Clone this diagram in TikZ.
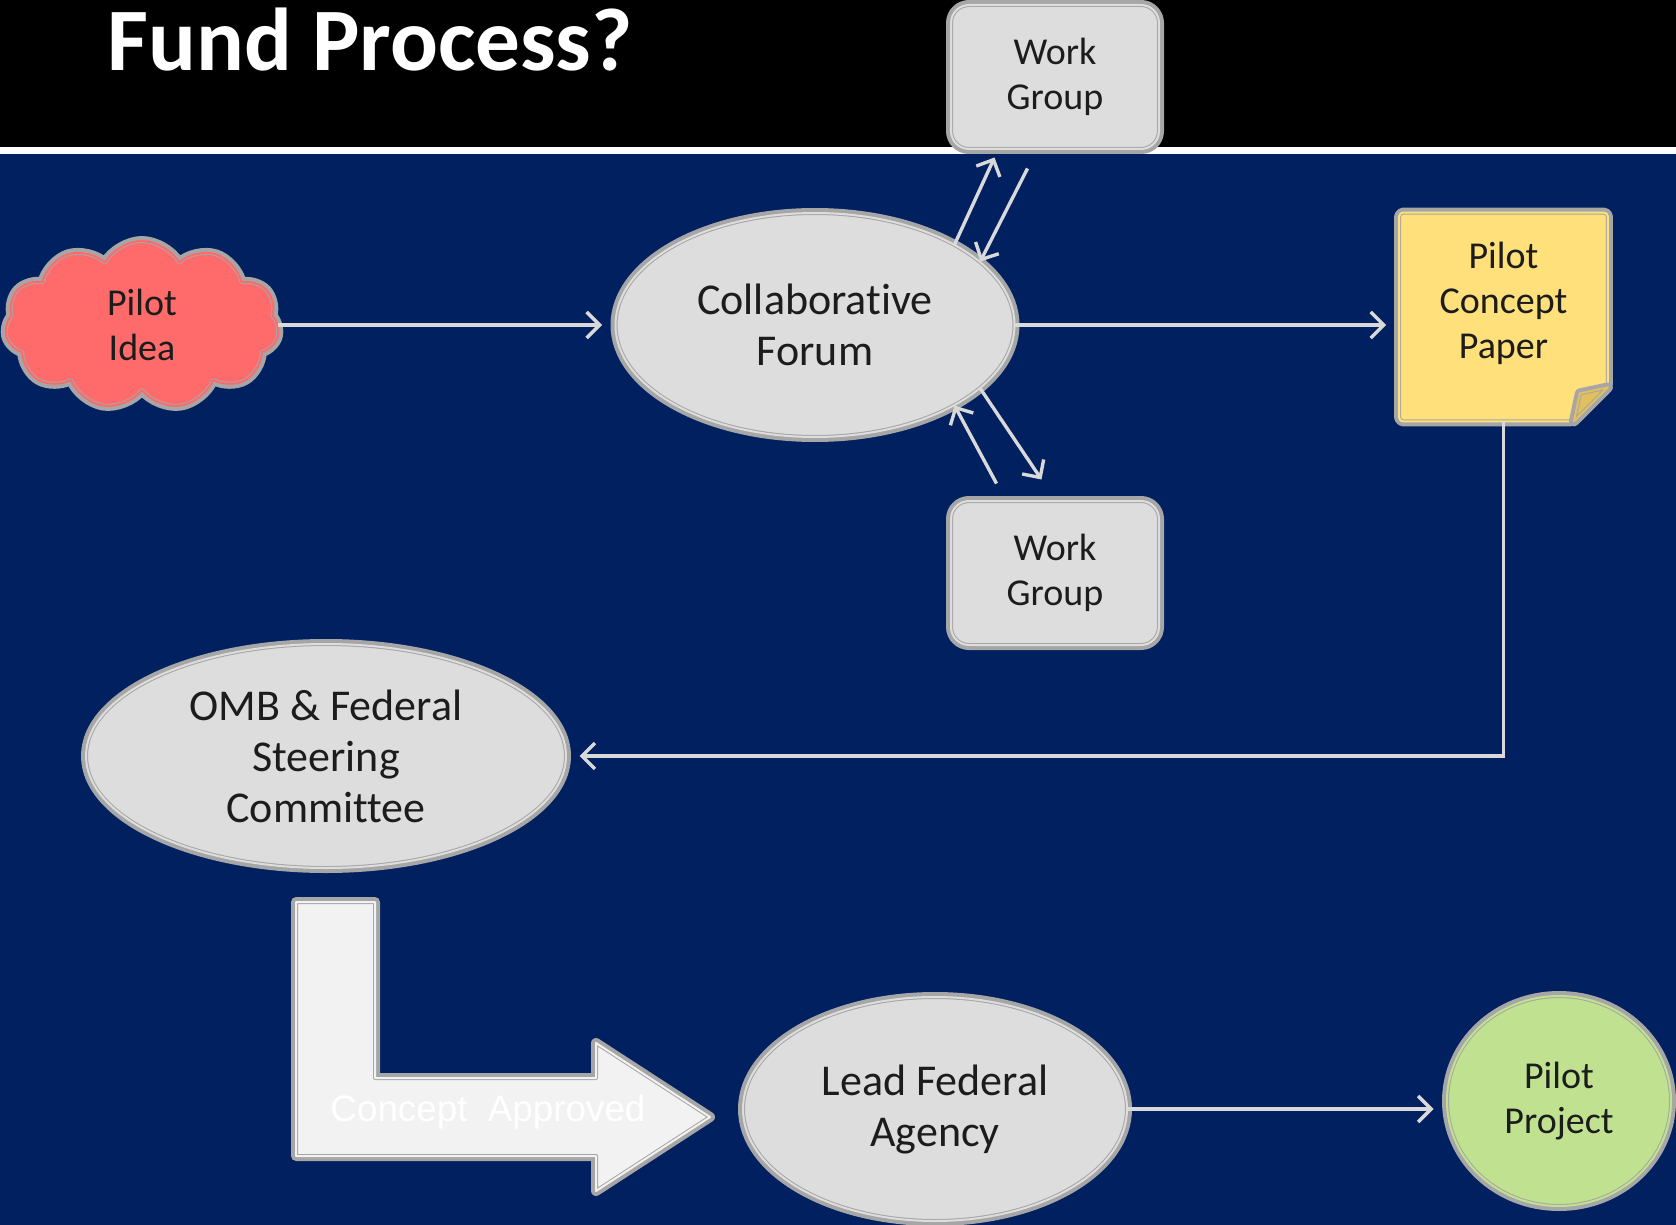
\documentclass[tikz,border=0pt]{standalone}
\usepackage{fontspec}
\setmainfont{Carlito}[Ligatures=NoCommon]
\newfontfamily\arialfont{Liberation Sans}
\usepackage{tikz}
\usetikzlibrary{arrows.meta,shapes.geometric,shapes.symbols,backgrounds}

\pgfdeclarelayer{slide}
\pgfsetlayers{slide,background,main}

\definecolor{slideblue}{RGB}{0,32,96}
\definecolor{edgegray}{RGB}{166,166,166}
\definecolor{shapegray}{RGB}{221,221,221}
\definecolor{ideared}{RGB}{255,107,107}
\definecolor{paperyellow}{RGB}{255,224,122}
\definecolor{flapyellow}{RGB}{226,192,96}
\definecolor{projgreen}{RGB}{192,226,144}
\definecolor{bendwhite}{RGB}{242,242,242}
\definecolor{linkgray}{RGB}{217,217,217}
\definecolor{inkgray}{RGB}{28,28,28}

\begin{document}
\begin{tikzpicture}[x=0.5pt,y=-0.5pt,
    >={Straight Barb[length=6.5pt,width=13pt]},
    framed/.style={preaction={draw=edgegray,line width=5pt,line join=round},
      draw=edgegray,line width=0.5pt,line join=round,double=#1,double distance=1pt,fill=#1},
    link/.style={->,draw=linkgray,line width=1.7pt,shorten >=6.5pt},
    bigtext/.style={font=\fontsize{22}{25.5}\selectfont},
    smalltext/.style={font=\fontsize{19}{22.5}\selectfont}]
  \tikzstyle{every node}=[text=inkgray,align=center,inner sep=0pt]
  \tikzstyle{oval}=[ellipse,framed=shapegray,bigtext,minimum height=112pt]
  \tikzstyle{wgbox}=[rectangle,rounded corners=9pt,framed=shapegray,smalltext,
    minimum width=104pt,minimum height=72pt]
\useasboundingbox (0,0) rectangle (1676,1225);

% slide background
\begin{pgfonlayer}{slide}
  \fill[slideblue] (0,0) rectangle (1676,1225);
  \fill[black] (0,0) rectangle (1676,147);
  \fill[white] (0,147) rectangle (1676,154);
\end{pgfonlayer}

\node[anchor=base west,text=white,font=\bfseries\fontsize{44.6}{44.6}\selectfont]
  (title) at (107,71) {Fund Process?};

\node[cloud,cloud puffs=11,cloud puff arc=120,aspect=1.65,framed=ideared,smalltext,
  minimum width=137pt,minimum height=84pt] (idea) at (142,325) {Pilot\\Idea\hspace*{0pt}};
\node[oval,minimum width=199.5pt] (forum) at (815,325) {Collaborative\\Forum};
\node[wgbox] (wgtop) at (1055,77) {Work\\Group};
\node[wgbox] (wgbot) at (1055,573) {Work\\Group};
\node[rectangle,smalltext,minimum width=104pt,minimum height=104pt]
  (paper) at (1503.5,317) {Pilot\\Concept\\Paper\\[-5.5pt]};
\node[oval,minimum width=240pt] (omb) at (326,756) {OMB \& Federal\\Steering\\Committee};
\node[oval,minimum width=192pt] (lead) at (935,1109) {Lead Federal\\Agency};
\node[ellipse,framed=projgreen,smalltext,minimum width=112pt,minimum height=105pt]
  (project) at (1559,1101) {Pilot\\Project};

% sticky note behind its text
\begin{scope}[on background layer]
  \draw[framed=paperyellow,rounded corners=2pt] (paper.north west) -- (paper.north east)
    -- ([yshift=17pt]paper.south east) -- ([xshift=-17pt]paper.south east)
    -- (paper.south west) -- cycle;
  \draw[framed=flapyellow] ([yshift=17pt]paper.south east) -- ([xshift=-17pt]paper.south east)
    -- ([xshift=-14pt,yshift=14pt]paper.south east) -- cycle;
\end{scope}

% bent arrow
\draw[framed=bendwhite] (296,902) -- (375,902) -- (375,1078) -- (596,1078) -- (596,1043)
  -- (710,1117) -- (596,1191) -- (596,1156) -- (296,1156) -- cycle;
\node[text=white,font=\arialfont\fontsize{18.4}{18.4}\selectfont]
  (approved) at (488,1112) {Concept\ \ Approved};

\draw[link] (idea.east) -- (idea.east -| forum.west);
\draw[link] (forum.east) -- (forum.east -| paper.west);
\draw[link] (paper.south) |- (omb.east);
\draw[link] (lead.east) -- (lead.east -| project.west);

\draw[link,shorten >=0pt] (forum.30) -- ([xshift=22pt,yshift=-4pt]wgtop.south west);
\draw[link,shorten >=0pt] ([xshift=38.5pt,yshift=-9.5pt]wgtop.south west) -- (forum.21);
\draw[link,shorten >=0pt] ([xshift=23pt,yshift=8.5pt]wgbot.north west) -- (forum.-30);
\draw[link,shorten >=0pt] (forum.-21) -- ([xshift=45.5pt,yshift=10.5pt]wgbot.north west);

\end{tikzpicture}
\end{document}
